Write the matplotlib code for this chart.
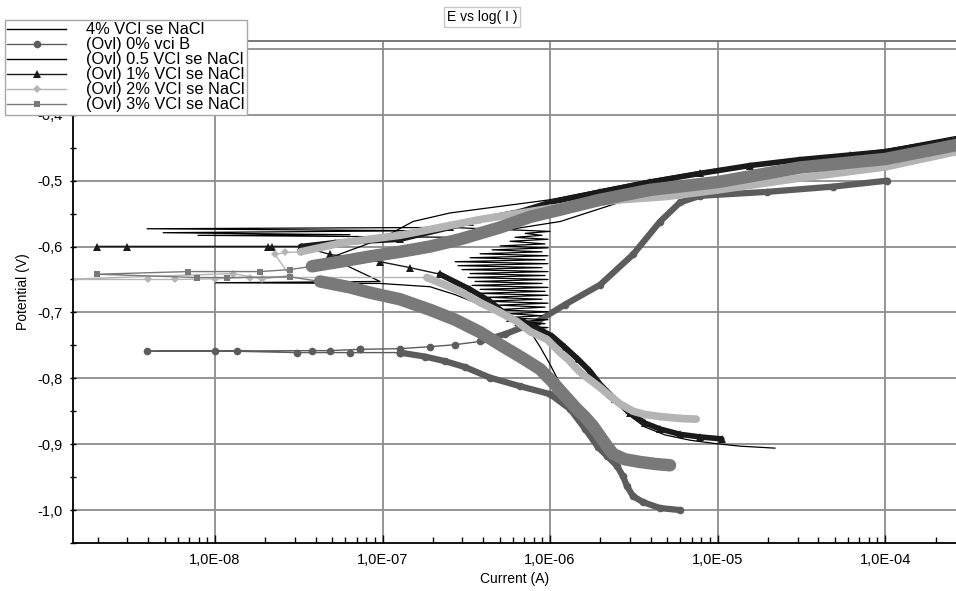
import numpy as np
import matplotlib.pyplot as plt
from matplotlib.lines import Line2D
from matplotlib.ticker import FuncFormatter, LogLocator, MultipleLocator, NullFormatter

plt.rcParams['font.family'] = ['Liberation Sans', 'DejaVu Sans']

#======= data: current (A), potential (V) =======#
# 4% VCI se NaCl (thin black)
i_4 = [2.20e-5, 1.36e-5, 9.66e-6, 6.86e-6, 4.86e-6, 3.69e-6, 2.92e-6, 2.34e-6, 1.94e-6, 1.62e-6,
       1.35e-6, 1.12e-6, 9.33e-7, 7.60e-7, 5.39e-7, 3.82e-7, 2.71e-7, 1.92e-7, 9.66e-8, 1.0e-8,
       9.66e-8, 4.86e-8, 9.66e-8, 1.52e-7, 2.53e-7, 5.03e-7, 1.0e-6, 1.99e-6, 3.95e-6, 7.87e-6,
       1.79e-5, 4.10e-5, 1.0e-4, 2.65e-4]
e_4 = [-0.906, -0.903, -0.899, -0.894, -0.886, -0.874, -0.855, -0.832, -0.809, -0.786,
       -0.767, -0.749, -0.733, -0.721, -0.708, -0.688, -0.673, -0.661, -0.656, -0.655,
       -0.653, -0.617, -0.589, -0.562, -0.549, -0.539, -0.529, -0.514, -0.499, -0.486,
       -0.473, -0.464, -0.453, -0.433]

# (Ovl) 0% vci B (dark gray circles)
i0_cat = [5.97e-6, 4.54e-6, 3.59e-6, 3.13e-6, 2.88e-6, 2.73e-6, 2.51e-6, 2.19e-6, 1.94e-6, 1.62e-6,
          1.32e-6, 1.0e-6, 6.62e-7, 4.38e-7, 3.11e-7, 2.36e-7, 1.79e-7, 1.27e-7]
e0_cat = [-1.000, -0.997, -0.988, -0.979, -0.964, -0.949, -0.933, -0.918, -0.905, -0.877,
          -0.847, -0.824, -0.812, -0.799, -0.783, -0.774, -0.767, -0.761]
i0_cor = [1.27e-7, 6.39e-8, 3.09e-8, 1.35e-8, 1.0e-8, 3.93e-9, 3.8e-8, 4.86e-8, 7.35e-8]
e0_cor = [-0.761, -0.761, -0.761, -0.759, -0.758, -0.759, -0.758, -0.758, -0.756]
i0_an = [7.35e-8, 1.27e-7, 1.92e-7, 2.71e-7, 3.82e-7, 5.39e-7, 8.36e-7, 1.23e-6, 1.99e-6, 3.13e-6,
         4.54e-6, 5.97e-6, 7.87e-6, 1.98e-5, 4.90e-5, 1.03e-4]
e0_an = [-0.756, -0.755, -0.752, -0.749, -0.744, -0.733, -0.714, -0.688, -0.658, -0.612,
         -0.562, -0.533, -0.523, -0.517, -0.509, -0.500]

# (Ovl) 0.5 VCI se NaCl (thin black, noisy)
i05_cat = [2.38e-6, 1.99e-6, 1.73e-6, 1.51e-6, 1.32e-6, 1.15e-6, 1.0e-6, 8.71e-7, 7.93e-7]
e05_cat = [-0.911, -0.892, -0.874, -0.855, -0.836, -0.809, -0.779, -0.752, -0.736]
i05_noise = [7.60e-7, 9.72e-7, 6.18e-7, 9.33e-7, 6.62e-7, 9.72e-7, 5.39e-7, 8.95e-7, 5.77e-7, 9.72e-7,
             4.70e-7, 9.33e-7, 4.90e-7, 9.72e-7, 4.09e-7, 8.95e-7, 4.26e-7, 9.72e-7, 3.71e-7, 9.33e-7,
             3.82e-7, 9.72e-7, 3.42e-7, 8.95e-7, 3.56e-7, 9.72e-7, 3.24e-7, 9.33e-7, 3.33e-7, 9.72e-7,
             2.98e-7, 8.95e-7, 2.82e-7, 9.72e-7, 2.71e-7, 9.33e-7, 3.33e-7, 9.72e-7, 3.82e-7, 8.95e-7,
             4.51e-7, 9.72e-7, 5.03e-7, 9.33e-7, 5.77e-7, 9.72e-7, 6.18e-7, 8.95e-7, 7.10e-7, 1.0e-6]
e05_noise = [-0.726, -0.723, -0.720, -0.717, -0.714, -0.711, -0.708, -0.705, -0.702, -0.699,
             -0.696, -0.692, -0.689, -0.686, -0.683, -0.680, -0.677, -0.674, -0.671, -0.668,
             -0.665, -0.662, -0.659, -0.656, -0.653, -0.650, -0.647, -0.644, -0.641, -0.638,
             -0.635, -0.632, -0.629, -0.626, -0.623, -0.620, -0.617, -0.614, -0.611, -0.608,
             -0.605, -0.602, -0.599, -0.596, -0.592, -0.589, -0.586, -0.583, -0.580, -0.577]
i05_spk = [2.53e-7, 3.93e-9, 1.67e-7, 4.90e-9, 6.39e-8, 7.92e-9, 2.90e-7]
e05_spk = [-0.571, -0.573, -0.576, -0.579, -0.582, -0.583, -0.586]
i05_an = [1.15e-6, 3.95e-6, 1.79e-5]
e05_an = [-0.562, -0.518, -0.486]

# (Ovl) 1% VCI se NaCl (black triangles)
i1_cat = [1.06e-5, 7.87e-6, 5.97e-6, 4.54e-6, 3.69e-6, 3.01e-6, 2.44e-6, 1.99e-6, 1.73e-6, 1.47e-6,
          1.23e-6, 1.03e-6, 8.71e-7, 7.10e-7, 5.77e-7, 4.38e-7, 3.33e-7, 2.20e-7]
e1_cat = [-0.892, -0.889, -0.885, -0.877, -0.868, -0.852, -0.832, -0.809, -0.789, -0.771,
          -0.753, -0.736, -0.726, -0.715, -0.708, -0.683, -0.665, -0.642]
i1_cor = [2.20e-7, 1.46e-7, 9.66e-8, 4.86e-8, 3.30e-8, 2.19e-8, 2.07e-8, 2.99e-9, 1.98e-9, 3.24e-8]
e1_cor = [-0.642, -0.632, -0.623, -0.612, -0.600, -0.600, -0.600, -0.600, -0.600, -0.600]
i1_an = [3.24e-8, 5.20e-8, 1.27e-7, 2.53e-7, 3.33e-7, 6.62e-7, 1.0e-6, 1.99e-6, 3.95e-6, 7.87e-6,
         1.56e-5, 3.11e-5, 6.18e-5, 1.0e-4, 2.65e-4]
e1_an = [-0.600, -0.594, -0.589, -0.571, -0.562, -0.547, -0.533, -0.517, -0.502, -0.489,
         -0.477, -0.468, -0.461, -0.456, -0.438]

# (Ovl) 2% VCI se NaCl (light gray diamonds)
i2_cat = [7.45e-6, 5.97e-6, 4.54e-6, 3.69e-6, 3.13e-6, 2.62e-6, 2.28e-6, 1.99e-6, 1.81e-6, 1.62e-6,
          1.45e-6, 1.28e-6, 1.15e-6, 9.59e-7, 7.60e-7, 6.35e-7, 5.03e-7, 3.82e-7, 2.90e-7, 2.20e-7,
          1.84e-7]
e2_cat = [-0.862, -0.861, -0.858, -0.855, -0.850, -0.839, -0.827, -0.814, -0.806, -0.797,
          -0.786, -0.771, -0.761, -0.741, -0.729, -0.714, -0.700, -0.685, -0.668, -0.655,
          -0.647]
i2_cor = [1.84e-7, 1.62e-8, 1.0e-8, 5.77e-9, 3.97e-9, 1.19e-9, 1.28e-8, 1.91e-8, 2.80e-8, 2.28e-8,
          2.62e-8, 3.24e-8]
e2_cor = [-0.647, -0.647, -0.649, -0.650, -0.650, -0.650, -0.641, -0.649, -0.644, -0.612,
          -0.609, -0.608]
i2_an = [3.24e-8, 5.81e-8, 1.27e-7, 2.53e-7, 3.82e-7, 1.0e-6, 2.62e-6, 5.0e-6, 1.01e-5, 3.11e-5,
         1.01e-4, 2.65e-4]
e2_an = [-0.608, -0.594, -0.583, -0.568, -0.559, -0.542, -0.529, -0.524, -0.514, -0.496,
         -0.479, -0.456]

# (Ovl) 3% VCI se NaCl (gray squares)
i3_cat = [5.20e-6, 4.24e-6, 3.45e-6, 2.80e-6, 2.38e-6, 2.19e-6, 1.99e-6, 1.81e-6, 1.62e-6, 1.45e-6,
          1.23e-6, 1.04e-6, 8.71e-7, 6.62e-7, 5.03e-7, 3.82e-7, 2.71e-7, 1.92e-7, 1.27e-7, 8.42e-8,
          6.39e-8, 4.24e-8]
e3_cat = [-0.932, -0.930, -0.927, -0.923, -0.915, -0.903, -0.888, -0.873, -0.859, -0.847,
          -0.827, -0.806, -0.786, -0.767, -0.749, -0.730, -0.711, -0.696, -0.680, -0.670,
          -0.662, -0.653]
i3_cor = [4.24e-8, 2.80e-8, 1.18e-8, 7.8e-9, 1.98e-9, 6.9e-9, 1.86e-8, 2.80e-8, 3.79e-8]
e3_cor = [-0.653, -0.646, -0.647, -0.647, -0.642, -0.638, -0.638, -0.635, -0.630]
i3_an = [3.79e-8, 5.57e-8, 8.42e-8, 1.27e-7, 1.92e-7, 2.90e-7, 5.03e-7, 7.60e-7, 1.15e-6, 1.99e-6,
         3.95e-6, 1.01e-5, 3.11e-5, 1.01e-4, 2.65e-4]
e3_an = [-0.630, -0.623, -0.615, -0.608, -0.600, -0.589, -0.571, -0.555, -0.544, -0.529,
         -0.514, -0.502, -0.480, -0.467, -0.446]

labels = ['4% VCI se NaCl', '(Ovl) 0% vci B', '(Ovl) 0.5 VCI se NaCl',
          '(Ovl) 1% VCI se NaCl', '(Ovl) 2% VCI se NaCl', '(Ovl) 3% VCI se NaCl']
colors = ['#000000', '#5c5c5c', '#000000', '#1a1a1a', '#b4b4b4', '#797979']
markers = [None, 'o', None, '^', 'D', 's']
msizes = [0, 5.5, 0, 6, 4.5, 4.5]

#======= figure =======#
fig = plt.figure(figsize=(9.56, 5.91), dpi=100)
ax = fig.add_axes([73/956, 48/591, 883/956, 502/591])


def series(branches, color, marker, ms, band_lw, an_start=0):
    # thick band under the two Tafel branches, thin line with markers over everything
    xs = np.concatenate([b[0] for b in branches])
    ys = np.concatenate([b[1] for b in branches])
    ax.plot(branches[0][0], branches[0][1], color=color, lw=band_lw,
            solid_capstyle='round', solid_joinstyle='round')
    ax.plot(branches[2][0][an_start:], branches[2][1][an_start:], color=color, lw=band_lw,
            solid_capstyle='round', solid_joinstyle='round')
    ax.plot(xs, ys, color=color, lw=1.0, marker=marker, ms=ms, mew=0)


ax.plot(i_4, e_4, color=colors[0], lw=0.9)
series([(i0_cat, e0_cat), (i0_cor, e0_cor), (i0_an, e0_an)], colors[1], 'o', 5.5, 4.5, an_start=4)
ax.plot(np.concatenate([i05_cat, i05_noise, i05_spk, i05_an]),
        np.concatenate([e05_cat, e05_noise, e05_spk, e05_an]), color=colors[2], lw=0.9)
series([(i1_cat, e1_cat), (i1_cor, e1_cor), (i1_an, e1_an)], colors[3], '^', 6, 4)
series([(i2_cat, e2_cat), (i2_cor, e2_cor), (i2_an, e2_an)], colors[4], 'D', 4.5, 5.5)
series([(i3_cat, e3_cat), (i3_cor, e3_cor), (i3_an, e3_an)], colors[5], 's', 4.5, 9)

ax.set_xscale('log')
ax.set_xlim(1.42e-9, 2.65e-4)
ax.set_ylim(-1.05, -0.288)

ax.xaxis.set_major_locator(LogLocator(base=10, numticks=20))
ax.xaxis.set_minor_locator(LogLocator(base=10, subs=np.arange(2, 10), numticks=20))
ax.xaxis.set_major_formatter(FuncFormatter(lambda v, p: f"{v:.1E}".replace('.', ',')))
ax.xaxis.set_minor_formatter(NullFormatter())
ax.yaxis.set_major_locator(MultipleLocator(0.1))
ax.yaxis.set_minor_locator(MultipleLocator(0.05))
ax.yaxis.set_major_formatter(FuncFormatter(lambda v, p: f"{v:.1f}".replace('.', ',')))

ax.tick_params(axis='x', which='both', direction='in', length=4, width=1, pad=7, labelsize=10.5)
ax.tick_params(axis='x', which='major', length=6)
ax.tick_params(axis='y', which='both', direction='inout', length=5, width=1, pad=5, labelsize=10.5)

ax.grid(True, which='major', color='#8c8c8c', lw=1.3)
ax.set_axisbelow(True)
for s in ('left', 'bottom'):
    ax.spines[s].set_color('black')
    ax.spines[s].set_linewidth(1.3)
ax.spines['top'].set_color('#6e6e6e')
ax.spines['top'].set_linewidth(1.3)
ax.spines['right'].set_visible(False)

ax.set_xlabel('Current (A)', fontsize=10, labelpad=4)
ax.set_ylabel('Potential (V)', fontsize=10, labelpad=5)

handles = [Line2D([], [], color=c, lw=1.0, marker=m, ms=ms, mew=0)
           for c, m, ms in zip(colors, markers, msizes)]
fig.legend(handles, labels, loc='upper left', bbox_to_anchor=(5/956, 1 - 20/591),
           bbox_transform=fig.transFigure, borderaxespad=0, borderpad=0.15,
           handlelength=3.6, handletextpad=1.2, labelspacing=0.0, fontsize=11.8,
           frameon=True, fancybox=False, edgecolor='#a8a8a8', framealpha=1)

fig.text(482/956, 1 - 17/591, 'E vs log( I )', ha='center', va='center', fontsize=10,
         bbox=dict(boxstyle='square,pad=0.2', fc='white', ec='#c8c8c8', lw=1))

plt.savefig('out.png', dpi=100)
